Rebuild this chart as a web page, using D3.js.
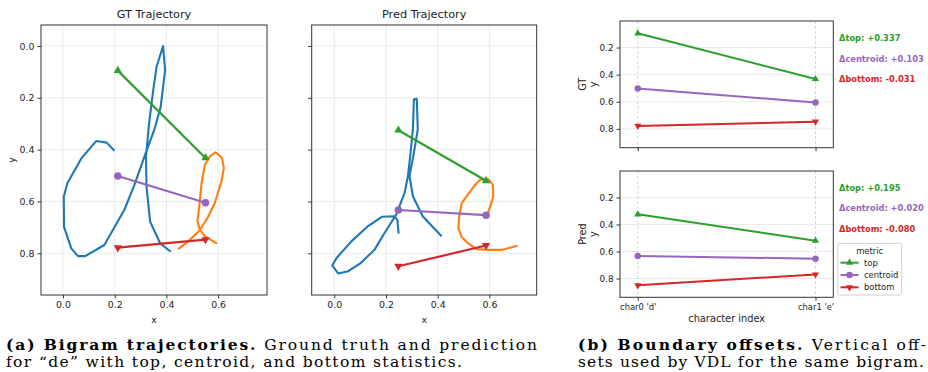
<!DOCTYPE html>
<html>
<head>
<meta charset="utf-8">
<script src="https://cdn.jsdelivr.net/npm/d3@7"></script>
<style>
  body { margin: 0; background: #fff; }
  text { font-family: "DejaVu Sans", sans-serif; fill: #222; }
  .cap { font-family: "DejaVu Serif", "Liberation Serif", serif; fill: #000; }
</style>
</head>
<body>
<svg id="chart" width="928" height="372"></svg>
<script>
// ---- data ----
// pen trajectories, [x, y] in normalised units (y grows downwards)
const gtCharD = [[0.199,0.404],[0.169,0.373],[0.128,0.367],[0.071,0.434],[0.017,0.530],[0.003,0.582],
  [0.004,0.698],[0.032,0.781],[0.058,0.811],[0.086,0.811],[0.160,0.768],[0.237,0.633],[0.276,0.537],
  [0.317,0.421],[0.353,0.324],[0.378,0.234],[0.395,0.093],[0.387,0.000],[0.362,0.080],[0.349,0.170],
  [0.333,0.299],[0.321,0.427],[0.323,0.543],[0.337,0.678],[0.376,0.762],[0.417,0.794]];
const gtCharE = [[0.446,0.784],[0.491,0.748],[0.529,0.711],[0.561,0.660],[0.587,0.606],[0.613,0.522],
  [0.622,0.471],[0.615,0.432],[0.590,0.410],[0.568,0.426],[0.549,0.458],[0.536,0.529],[0.527,0.619],
  [0.520,0.677],[0.529,0.709],[0.549,0.735],[0.596,0.763]];
const predCharD = [[0.249,0.724],[0.244,0.672],[0.233,0.657],[0.185,0.659],[0.131,0.695],[0.067,0.753],
  [0.009,0.818],[-0.008,0.847],[0.015,0.878],[0.054,0.869],[0.099,0.840],[0.156,0.786],[0.195,0.721],
  [0.240,0.650],[0.272,0.567],[0.285,0.502],[0.295,0.412],[0.304,0.322],[0.308,0.206],[0.319,0.204],
  [0.323,0.322],[0.308,0.412],[0.291,0.502],[0.304,0.580],[0.342,0.657],[0.415,0.734]];
const predCharE = [[0.592,0.651],[0.605,0.613],[0.615,0.581],[0.613,0.536],[0.596,0.514],[0.564,0.516],
  [0.545,0.536],[0.519,0.570],[0.493,0.606],[0.483,0.658],[0.480,0.703],[0.493,0.738],[0.519,0.763],
  [0.551,0.784],[0.603,0.787],[0.648,0.787],[0.709,0.771]];

// per-character statistics (char0 'd', char1 'e')
const charLabels = ["char0 'd'", "char1 'e'"];
const metrics = ["top", "centroid", "bottom"];
const gtCharX = [0.212, 0.551];
const predCharX = [0.248, 0.587];
const gtTop = [0.095, 0.432];
const gtCentroid = [0.502, 0.605];
const gtBottom = [0.778, 0.747];
const predTop = [0.325, 0.520];
const predCentroid = [0.633, 0.653];
const predBottom = [0.850, 0.770];

const trajTicksX = [0.0, 0.2, 0.4, 0.6];
const trajTicksY = [0.0, 0.2, 0.4, 0.6, 0.8];
const offsetTicksY = [0.2, 0.4, 0.6, 0.8];

const colors = { d: "#1f77b4", e: "#ff7f0e", top: "#2ca02c", centroid: "#9467bd", bottom: "#d62728" };
const gridCol = "#ebebeb";
const spineCol = "#333";

const svg = d3.select("#chart");
const fmt1 = d3.format(".1f");

function marker(metric, size) {
  if (metric === "centroid") return d3.symbol(d3.symbolCircle, size * 1.5)();
  return d3.symbol(d3.symbolTriangle, size)();
}

function drawMarker(g, metric, px, py, size) {
  g.append("path")
    .attr("d", marker(metric, size))
    .attr("fill", colors[metric])
    .attr("transform", `translate(${px},${py})` + (metric === "bottom" ? " rotate(180)" : ""));
}

function styleAxis(ax) {
  ax.select(".domain").remove();
  ax.selectAll(".tick line").attr("stroke", spineCol);
  ax.selectAll(".tick text").attr("fill", "#222");
}

// ---- trajectory panels ----
function trajPanel(opts) {
  const x = d3.scaleLinear().domain(opts.xDom).range([opts.left, opts.right]);
  const y = d3.scaleLinear().domain(opts.yDom).range([opts.top, opts.bottom]);
  const g = svg.append("g");

  g.append("g").selectAll("line").data(trajTicksX).join("line")
    .attr("x1", d => x(d)).attr("x2", d => x(d)).attr("y1", opts.top).attr("y2", opts.bottom)
    .attr("stroke", gridCol).attr("stroke-width", 1);
  g.append("g").selectAll("line").data(trajTicksY).join("line")
    .attr("y1", d => y(d)).attr("y2", d => y(d)).attr("x1", opts.left).attr("x2", opts.right)
    .attr("stroke", gridCol).attr("stroke-width", 1);

  const line = d3.line().x(d => x(d[0])).y(d => y(d[1]));
  [[opts.d, colors.d], [opts.e, colors.e]].forEach(([pts, c]) => {
    g.append("path").attr("d", line(pts)).attr("fill", "none")
      .attr("stroke", c).attr("stroke-width", 2.1).attr("stroke-linejoin", "round");
  });

  metrics.forEach(m => {
    const vals = opts.stats[m];
    const pts = opts.charX.map((cx, i) => [cx, vals[i]]);
    g.append("path").attr("d", line(pts)).attr("fill", "none")
      .attr("stroke", colors[m]).attr("stroke-width", 2.2);
    pts.forEach(p => drawMarker(g, m, x(p[0]), y(p[1]), 30));
  });

  g.append("rect").attr("x", opts.left).attr("y", opts.top)
    .attr("width", opts.right - opts.left).attr("height", opts.bottom - opts.top)
    .attr("fill", "none").attr("stroke", spineCol).attr("stroke-width", 1);

  const xa = g.append("g").attr("transform", `translate(0,${opts.bottom})`)
    .call(d3.axisBottom(x).tickValues(trajTicksX).tickFormat(fmt1).tickSize(3.5).tickPadding(3));
  xa.selectAll("text").style("font-size", "9.4px");
  styleAxis(xa);
  const ya = g.append("g").attr("transform", `translate(${opts.left},0)`)
    .call(d3.axisLeft(y).tickValues(trajTicksY).tickFormat(opts.yLabels ? fmt1 : "").tickSize(3.5).tickPadding(3));
  ya.selectAll("text").style("font-size", "9.4px");
  styleAxis(ya);

  g.append("text").attr("x", (opts.left + opts.right) / 2).attr("y", opts.top - 7)
    .attr("text-anchor", "middle").style("font-size", "11.3px").text(opts.title);
  g.append("text").attr("x", (opts.left + opts.right) / 2).attr("y", 323)
    .attr("text-anchor", "middle").style("font-size", "9.4px").text("x");
  if (opts.yLabels) {
    g.append("text").attr("transform", `translate(15,${(opts.top + opts.bottom) / 2}) rotate(-90)`)
      .attr("text-anchor", "middle").style("font-size", "9.4px").text("y");
  }
}

trajPanel({
  title: "GT Trajectory", left: 41, right: 267, top: 25, bottom: 295,
  xDom: [-0.085, 0.789], yDom: [-0.081, 0.961], yLabels: true,
  d: gtCharD, e: gtCharE, charX: gtCharX,
  stats: { top: gtTop, centroid: gtCentroid, bottom: gtBottom }
});
trajPanel({
  title: "Pred Trajectory", left: 311.7, right: 536.7, top: 25, bottom: 295,
  xDom: [-0.0874, 0.783], yDom: [-0.081, 0.961], yLabels: false,
  d: predCharD, e: predCharE, charX: predCharX,
  stats: { top: predTop, centroid: predCentroid, bottom: predBottom }
});

// ---- boundary offset panels ----
function offsetPanel(opts) {
  const x = d3.scaleLinear().domain([-0.1, 1.1]).range([620, 833.3]);
  const y = d3.scaleLinear().domain([0.004, 0.939]).range([opts.top, opts.bottom]);
  const g = svg.append("g");

  g.append("g").selectAll("line").data(offsetTicksY).join("line")
    .attr("y1", d => y(d)).attr("y2", d => y(d)).attr("x1", 620).attr("x2", 833.3)
    .attr("stroke", gridCol).attr("stroke-width", 1);
  g.append("g").selectAll("line").data([0, 1]).join("line")
    .attr("x1", d => x(d)).attr("x2", d => x(d)).attr("y1", opts.top).attr("y2", opts.bottom)
    .attr("stroke", "#d8d8d8").attr("stroke-width", 1).attr("stroke-dasharray", "3,2");

  const line = d3.line().x((d, i) => x(i)).y(d => y(d));
  metrics.forEach(m => {
    const vals = opts.stats[m];
    g.append("path").attr("d", line(vals)).attr("fill", "none")
      .attr("stroke", colors[m]).attr("stroke-width", 2);
    vals.forEach((v, i) => drawMarker(g, m, x(i), y(v), 22));
  });

  g.append("rect").attr("x", 620).attr("y", opts.top)
    .attr("width", 213.3).attr("height", opts.bottom - opts.top)
    .attr("fill", "none").attr("stroke", spineCol).attr("stroke-width", 1);

  const xa = g.append("g").attr("transform", `translate(0,${opts.bottom})`)
    .call(d3.axisBottom(x).tickValues([0, 1])
      .tickFormat(opts.xLabels ? (d => charLabels[d]) : "").tickSize(3.5).tickPadding(3));
  xa.selectAll("text").style("font-size", "8.4px");
  styleAxis(xa);
  const ya = g.append("g").attr("transform", "translate(620,0)")
    .call(d3.axisLeft(y).tickValues(offsetTicksY).tickFormat(fmt1).tickSize(3.5).tickPadding(3));
  ya.selectAll("text").style("font-size", "8.8px");
  styleAxis(ya);

  const yl = g.append("text")
    .attr("transform", `translate(583,${(opts.top + opts.bottom) / 2}) rotate(-90)`)
    .attr("text-anchor", "middle").style("font-size", "9.6px");
  yl.append("tspan").attr("x", 0).attr("dy", "0.35em").text(opts.name);
  yl.append("tspan").attr("x", 0).attr("dy", "1.15em").text("y");

  const names = { top: "Δtop", centroid: "Δcentroid", bottom: "Δbottom" };
  metrics.forEach((m, i) => {
    const dv = opts.stats[m][1] - opts.stats[m][0];
    const s = (dv >= 0 ? "+" : "-") + Math.abs(dv).toFixed(3);
    g.append("text").attr("x", 839).attr("y", opts.annoY + i * 20.6).attr("dy", "0.35em")
      .style("font-size", "8.3px").style("font-weight", "bold").style("fill", colors[m])
      .text(`${names[m]}: ${s}`);
  });

  if (opts.xLabels) {
    g.append("text").attr("x", 726.7).attr("y", 322).attr("text-anchor", "middle")
      .style("font-size", "9.8px").text("character index");
  }
  return g;
}

offsetPanel({ name: "GT", top: 21, bottom: 147.7, annoY: 38.3, xLabels: false,
  stats: { top: gtTop, centroid: gtCentroid, bottom: gtBottom } });
const pb = offsetPanel({ name: "Pred", top: 171, bottom: 297.3, annoY: 187.7, xLabels: true,
  stats: { top: predTop, centroid: predCentroid, bottom: predBottom } });

// legend
const lg = pb.append("g");
lg.append("rect").attr("x", 837.7).attr("y", 243.3).attr("width", 64).attr("height", 51.7)
  .attr("rx", 2).attr("fill", "#fff").attr("fill-opacity", 0.8).attr("stroke", "#d0d0d0");
lg.append("text").attr("x", 869.7).attr("y", 250.7).attr("dy", "0.35em").attr("text-anchor", "middle")
  .style("font-size", "8.4px").text("metric");
metrics.forEach((m, i) => {
  const yy = 262.7 + i * 12.3;
  lg.append("line").attr("x1", 840.5).attr("x2", 858.5).attr("y1", yy).attr("y2", yy)
    .attr("stroke", colors[m]).attr("stroke-width", 2);
  drawMarker(lg, m, 849.5, yy, 22);
  lg.append("text").attr("x", 864).attr("y", yy).attr("dy", "0.35em")
    .style("font-size", "8.4px").text(m);
});

// ---- captions ----
function caption(x, y, len, bold, rest) {
  const t = svg.append("text").attr("class", "cap").attr("x", x).attr("y", y)
    .style("font-size", "15.5px");
  if (len) t.attr("textLength", len).attr("lengthAdjust", "spacing");
  if (bold) t.append("tspan").style("font-weight", "bold").text(bold);
  t.append("tspan").text(rest);
}
caption(6, 349.7, 531, "(a) Bigram trajectories.", " Ground truth and prediction");
caption(6, 367.3, 456, null, "for \u201cde\u201d with top, centroid, and bottom statistics.");
caption(578, 349.7, 348, "(b) Boundary offsets.", " Vertical off-");
caption(578, 367.3, 346, null, "sets used by VDL for the same bigram.");
</script>
</body>
</html>
